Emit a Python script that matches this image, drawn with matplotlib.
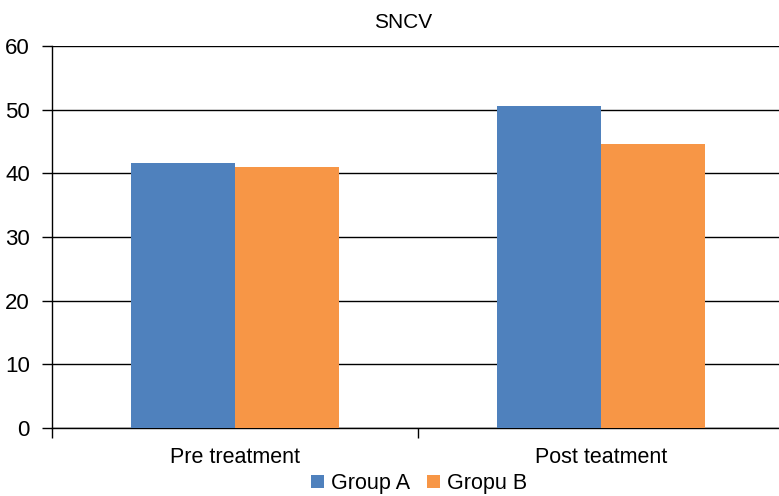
import numpy as np
import matplotlib.pyplot as plt

plt.rcParams['font.family'] = ['Liberation Sans', 'DejaVu Sans']

categories = ['Pre treatment', 'Post teatment']
series = ['Group A', 'Gropu B']
group_a = [41.6, 50.5]
group_b = [41.0, 44.6]
colors = ['#4F81BD', '#F79646']

fig = plt.figure(figsize=(7.79, 4.96), dpi=100)
ax = fig.add_axes([52 / 779, 68 / 496, 732 / 779, 382 / 496])

x = np.arange(len(categories))
w = 0.285
ax.bar(x - w / 2, group_a, w, color=colors[0], label=series[0], zorder=3)
ax.bar(x + w / 2, group_b, w, color=colors[1], label=series[1], zorder=3)

ax.set_xlim(-0.5, 1.5)
ax.set_ylim(0, 60)
ax.set_yticks(range(0, 61, 10))
ax.yaxis.grid(True, color='black', linewidth=1, zorder=0)
ax.set_xticks([-0.5, 0.5, 1.5])
ax.set_xticklabels([])
ax.set_xticks(x, minor=True)
ax.set_xticklabels(categories, minor=True)
ax.tick_params(axis='x', which='minor', length=0, labelsize=15.5, pad=14)
ax.tick_params(axis='x', which='major', length=7, width=1)
ax.tick_params(axis='y', length=7, width=1, labelsize=16, pad=9)
for s in ['top', 'right']:
    ax.spines[s].set_visible(False)
ax.spines['left'].set_linewidth(1)
ax.spines['bottom'].set_linewidth(1)

fig.text(403 / 779, 1 - 22 / 496, 'SNCV', fontsize=15, ha='center', va='center')
fig.legend(loc='lower center', bbox_to_anchor=(0.538, -0.035), ncol=2, frameon=False,
           fontsize=15.5, handlelength=0.6, handleheight=0.6, handletextpad=0.3,
           columnspacing=0.8)

fig.savefig('out.png', dpi=100)
